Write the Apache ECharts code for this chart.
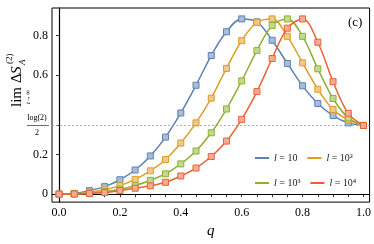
<!DOCTYPE html>
<html><head><meta charset="utf-8">
<script src="https://cdn.jsdelivr.net/npm/echarts@6/dist/echarts.min.js"></script>
<style>html,body{margin:0;padding:0;background:#fff}#c{width:374px;height:244px}</style>
</head><body><div id="c"></div>
<script>
const qValues = [0,0.05,0.1,0.15,0.2,0.25,0.3,0.35,0.4,0.45,0.5,0.55,0.6,0.65,0.7,0.75,0.8,0.85,0.9,0.95,1.0];
const seriesNames = ['l = 10','l = 10²','l = 10³','l = 10⁴'];
const l10 =  [0,0.004,0.018,0.038,0.073,0.122,0.193,0.288,0.41,0.55,0.70,0.82,0.885,0.87,0.777,0.66,0.547,0.458,0.397,0.36,0.347];
const l100 = [0,0.002,0.009,0.022,0.043,0.075,0.118,0.175,0.258,0.36,0.485,0.635,0.775,0.868,0.885,0.797,0.663,0.53,0.427,0.375,0.347];
const l1000 =[0,0.001,0.005,0.013,0.025,0.043,0.07,0.103,0.153,0.218,0.31,0.43,0.572,0.725,0.852,0.885,0.797,0.633,0.483,0.385,0.347];
const l10000=[0,0.001,0.003,0.008,0.018,0.03,0.042,0.06,0.092,0.132,0.19,0.268,0.378,0.518,0.685,0.838,0.885,0.767,0.568,0.408,0.347];
const L = Math.log(2)/2;
const yTicks = [0,0.2,L,0.6,0.8];
const xLabels = [0,0.2,0.4,0.6,0.8,1.0];

const colors = ['#5E81B5','#E19C24','#8FB032','#EB6235'];
const fills = ['#a9bcd9','#efc98a','#c5d88f','#f4ac94'];
const allData = [l10,l100,l1000,l10000];
const serif = 'Liberation Serif';

const chart = echarts.init(document.getElementById('c'), null, {renderer:'canvas'});
const series = allData.map((d,i)=>({
  name: seriesNames[i], type:'line', smooth:0.35,
  data: qValues.map((q,j)=>[q,d[j]]),
  symbol:'rect', symbolSize:6, showSymbol:true,
  lineStyle:{color:colors[i], width:1.5},
  itemStyle:{color:fills[i], borderColor:colors[i], borderWidth:1},
  emphasis:{disabled:true}, z: 3+i
}));
series[0].markLine = {silent:true, symbol:['none','none'], label:{show:false},
  lineStyle:{color:'#999', width:0.8, type:[2,2]}, data:[{yAxis:L}]};

function legendFor(names, idx, top){
  return {
    left:250, top:top, itemWidth:14, itemHeight:2, itemGap:10,
    data: names.map((n,k)=>({name:n, icon:'rect', itemStyle:{color:colors[idx[k]], borderWidth:0}})),
    textStyle:{fontFamily:serif, fontSize:10, color:'#222', padding:[0,0,0,0],
      rich:{i:{fontStyle:'italic', fontFamily:serif, fontSize:10, color:'#222'}}},
    formatter: n => '{i|l}' + n.slice(1),
    selectedMode:false
  };
}

chart.setOption({
  animation:false,
  grid:{left:52, right:3, top:8, bottom:40, show:true, borderColor:'#000', borderWidth:1, backgroundColor:'transparent'},
  legend:[legendFor([seriesNames[0],seriesNames[1]],[0,1],148), legendFor([seriesNames[2],seriesNames[3]],[2,3],173)],
  xAxis:{type:'value', min:-0.023, max:1.02,
    name:'q', nameLocation:'middle', nameGap:21,
    nameTextStyle:{fontFamily:serif, fontStyle:'italic', fontSize:15, color:'#000'},
    axisLine:{lineStyle:{color:'#000', width:1.2}},
    axisTick:{customValues:qValues, length:3, lineStyle:{color:'#000', width:0.8}},
    axisLabel:{customValues:xLabels, margin:5, fontFamily:serif, fontSize:12, color:'#000',
      formatter:v=>v.toFixed(1)},
    splitLine:{show:false}},
  yAxis:{type:'value', min:-0.04, max:0.94,
    axisLine:{show:true, lineStyle:{color:'#000', width:1.2}},
    axisTick:{show:true, customValues:yTicks, length:3, lineStyle:{color:'#000', width:0.8}},
    axisLabel:{customValues:yTicks, margin:4, fontFamily:serif, fontSize:12, color:'#000',
      formatter:v=> Math.abs(v-L)<1e-6 ? '{f|log(2)}\n{g|2}' : (v===0?'0':v.toFixed(1)),
      rich:{f:{fontFamily:serif, fontSize:8, width:22, align:'center', lineHeight:15, color:'#000'},
            g:{fontFamily:serif, fontSize:8, width:22, align:'center', lineHeight:15, color:'#000'}}},
    splitLine:{show:false}},
  series: series
});

const yL = chart.convertToPixel({yAxisIndex:0}, L);
chart.setOption({graphic:[
  {type:'line', shape:{x1:27, y1:yL, x2:49, y2:yL}, style:{stroke:'#000', lineWidth:0.6}, silent:true},
  {type:'text', left:348, top:16, style:{text:'(c)', font:'13px "Liberation Serif"', fill:'#000'}},
  {type:'group', x:17, y:107, rotation:Math.PI/2, children:[
    {type:'text', x:0, y:0, style:{text:'lim', font:'15px "Liberation Serif"', fill:'#000', textVerticalAlign:'middle'}},
    {type:'text', x:10, y:11, style:{text:'t→∞', font:'italic 7px "Liberation Serif"', fill:'#000', textAlign:'center', textVerticalAlign:'middle'}},
    {type:'text', x:24, y:0, style:{text:'Δ', font:'15px "Liberation Serif"', fill:'#000', textVerticalAlign:'middle'}},
    {type:'text', x:33, y:0, style:{text:'S', font:'italic 15px "Liberation Serif"', fill:'#000', textVerticalAlign:'middle'}},
    {type:'text', x:43, y:-7, style:{text:'(2)', font:'9px "Liberation Serif"', fill:'#000', textVerticalAlign:'middle'}},
    {type:'text', x:42, y:6, style:{text:'A', font:'italic 9px "Liberation Serif"', fill:'#000', textVerticalAlign:'middle'}}
  ]}
]});
</script></body></html>
